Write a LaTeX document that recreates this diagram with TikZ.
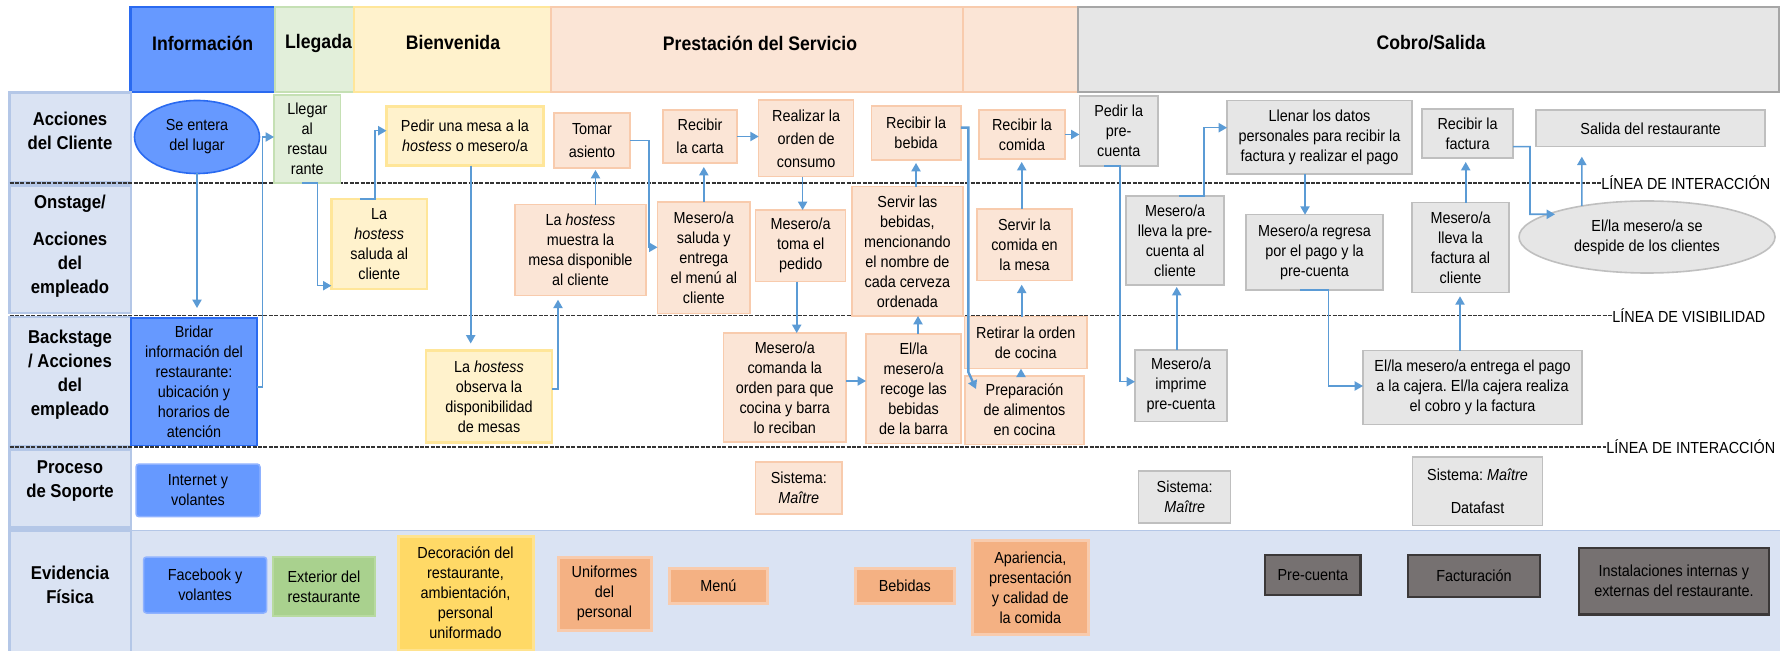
\documentclass[tikz,border=0pt]{standalone}
\usepackage{fontspec}
\setmainfont{Liberation Sans}[FakeStretch=0.9]
\usetikzlibrary{shapes.geometric,arrows.meta,calc}

\definecolor{blueF}{HTML}{6699FF}
\definecolor{blueD}{HTML}{2A6AF0}
\definecolor{blueS}{HTML}{8FB2FF}
\definecolor{grnLF}{HTML}{E2EFDA}
\definecolor{grnLD}{HTML}{C5E0B4}
\definecolor{grnF}{HTML}{A9D18E}
\definecolor{grnD}{HTML}{B8DAA0}
\definecolor{yelLF}{HTML}{FFF2CC}
\definecolor{yelLD}{HTML}{FFE699}
\definecolor{goldF}{HTML}{FFD966}
\definecolor{goldD}{HTML}{FFE38F}
\definecolor{pchF}{HTML}{FBE5D6}
\definecolor{pchD}{HTML}{F8CBAD}
\definecolor{orgF}{HTML}{F4B183}
\definecolor{orgD}{HTML}{F8CBAD}
\definecolor{gryF}{HTML}{E6E6E6}
\definecolor{gryD}{HTML}{BFBFBF}
\definecolor{gryH}{HTML}{A6A6A6}
\definecolor{dgryF}{HTML}{767171}
\definecolor{dgryD}{HTML}{3B3838}
\definecolor{lblF}{HTML}{DAE3F3}
\definecolor{lblD}{HTML}{B4C7E7}
\definecolor{arrowC}{HTML}{5B9BD5}
\definecolor{dashC}{HTML}{333333}

% box from its two corners (top-left, bottom-right), 1 unit = 0.5pt
\newcommand\boxat[7]{\node[#6, minimum width={(#4-#2)*0.5pt}, minimum height={(#5-#3)*0.5pt}] (#1) at ({(#2+#4)/2},{(#3+#5)/2}) {#7};}

\tikzset{
  plain/.style={draw, line width=0.75pt, align=center, inner sep=0pt, outer sep=0pt, font=\fontsize{8}{10}\selectfont},
  tall/.style={font=\fontsize{8}{11.5}\selectfont},
  blu/.style={plain, fill=blueF, draw=blueD},
  blus/.style={plain, fill=blueF, draw=blueS, rounded corners=1.5pt},
  grnl/.style={plain, fill=grnLF, draw=grnLD},
  grn/.style={plain, fill=grnF, draw=grnD},
  yel/.style={plain, fill=yelLF, draw=yelLD, line width=1.3pt},
  gld/.style={plain, fill=goldF, draw=goldD, line width=1.5pt},
  pch/.style={plain, fill=pchF, draw=pchD},
  org/.style={plain, fill=orgF, draw=orgD, line width=1.5pt},
  gry/.style={plain, fill=gryF, draw=gryD},
  dgry/.style={plain, fill=dgryF, draw=dgryD, line width=1.2pt},
  lblbox/.style={plain, fill=lblF, draw=lblD, line width=1.2pt},
  lbltxt/.style={align=center, inner sep=0pt, font=\bfseries\fontsize{9.3}{12}\selectfont},
  hdrtxt/.style={inner sep=0pt, font=\bfseries\fontsize{9.8}{12}\selectfont},
  linetxt/.style={anchor=west, inner sep=0pt, font=\fontsize{8}{10}\selectfont},
  dashln/.style={draw=dashC, line width=0.85pt, dash pattern=on 2pt off 0.7pt},
  arr/.style={draw=arrowC, line width=0.8pt, -{Triangle[length=4.2pt,width=4.6pt]}},
  arrthick/.style={arr, line width=1.2pt}
}

\begin{document}
\frenchspacing
\begin{tikzpicture}[x=0.5pt,y=-0.5pt]
\useasboundingbox (0,0) rectangle (1780,651);
\fill[white] (0,0) rectangle (1780,651);

% physical evidence band
\fill[lblF] (131,530.5) rectangle (1780,651);
\draw[lblD, line width=0.6pt] (131,530.5) -- (1780,530.5);

% phase headers
\boxat{hInfo}{130.5}{7}{274.8}{92}{plain, fill=blueF, draw=blueD, line width=1.2pt}{}
\boxat{hLleg}{275}{7}{354}{92}{plain, fill=grnLF, draw=grnLD, line width=0.6pt}{}
\boxat{hBien}{354}{7}{551}{92}{plain, fill=yelLF, draw=yelLD, line width=0.8pt}{}
\boxat{hPres}{551}{7}{963}{92}{plain, fill=pchF, draw=pchD, line width=0.8pt}{}
\boxat{hPresB}{963}{7}{1078}{92}{plain, fill=pchF, draw=pchD, line width=0.8pt}{}
\boxat{hCobro}{1078}{7}{1779}{92}{plain, fill=gryF, draw=gryH, line width=1pt}{}
\node[hdrtxt] (tInfo) at (202.6,43) {Información};
\node[hdrtxt] (tLleg) at (318.5,43) {Llegada};
\node[hdrtxt] (tBien) at (453,43) {Bienvenida};
\node[hdrtxt] (tPres) at (760,43) {Prestación del Servicio};
\node[hdrtxt] (tCobro) at (1431,43) {Cobro/Salida};

% lane labels
\boxat{lA}{9.6}{92.7}{131}{182.7}{lblbox}{}
\boxat{lB}{9.6}{185.7}{131}{313}{lblbox}{}
\boxat{lC}{9.6}{317}{131}{446.3}{lblbox}{}
\boxat{lD}{9.6}{449.5}{131}{527.5}{lblbox}{}
\boxat{lE}{9.6}{530.5}{131}{652}{lblbox}{}
\node[lbltxt] (lAt) at (70,131) {Acciones\\del Cliente};
\node[lbltxt] (lBt) at (70,246) {Onstage/\\[6.3pt]Acciones\\del\\empleado};
\node[lbltxt] (lCt) at (70,375) {Backstage\\/ Acciones\\del\\empleado};
\node[lbltxt] (lDt) at (70,481) {Proceso\\de Soporte};
\node[lbltxt] (lEt) at (70,585) {Evidencia\\Física};

% separation lines
\node[linetxt] (li1) at (1601,183) {LÍNEA DE INTERACCIÓN};
\node[linetxt] (li2) at (1612,315.5) {LÍNEA DE VISIBILIDAD};
\node[linetxt] (li3) at (1606,447) {LÍNEA DE INTERACCIÓN};
\draw[dashln] (9.6,183) -- (li1.west);
\draw[dashln] (9.6,315.5) -- (li2.west);
\draw[dashln] (9.6,447) -- (li3.west);

% customer actions
\node[ellipse, draw=blueD, fill=blueF, line width=0.8pt, inner sep=0pt, outer sep=0pt, align=center,
      font=\fontsize{8}{10}\selectfont, minimum width=62.5pt, minimum height=36.5pt] (se) at (197,137) {Se entera\\del lugar};
\boxat{llegar}{274}{95}{340.6}{183}{grnl}{Llegar\\al\\restau\\rante}
\boxat{pmesa}{386.5}{106.7}{543.4}{165.7}{yel}{Pedir una mesa a la\\\textit{hostess} o mesero/a}
\boxat{tomar}{554}{113}{630}{168}{pch,tall}{Tomar\\asiento}
\boxat{rcarta}{663}{110}{737}{163}{pch,tall}{Recibir\\la carta}
\boxat{rorden}{758.7}{100}{853.6}{176.7}{pch,tall}{Realizar la\\orden de\\consumo}
\boxat{rbebida}{871.4}{106}{960.8}{160}{pch}{Recibir la\\bebida}
\boxat{rcomida}{979}{110}{1065}{159}{pch}{Recibir la\\comida}
\boxat{ppre}{1079.4}{96}{1158}{166}{gry}{Pedir la\\pre-\\cuenta}
\boxat{llenar}{1227}{100.7}{1412}{174}{gry}{Llenar los datos\\personales para recibir la\\factura y realizar el pago}
\boxat{rfact}{1422}{109}{1513}{158}{gry}{Recibir la\\factura}
\boxat{salida}{1536}{110}{1765}{146.7}{gry}{Salida del restaurante}

% onstage
\boxat{hsaluda}{331.4}{199}{427}{289}{yel}{La\\\textit{hostess}\\saluda al\\cliente}
\boxat{hmuestra}{515}{204.7}{646}{295.7}{pch}{La \textit{hostess}\\muestra la\\mesa disponible\\al cliente}
\boxat{msaluda}{657.5}{202}{750}{313.3}{pch}{Mesero/a\\saluda y\\entrega\\el menú al\\cliente}
\boxat{mtoma}{755.6}{210}{845.7}{281.7}{pch}{Mesero/a\\toma el\\pedido}
\boxat{sbebidas}{852}{186.7}{962.8}{316}{pch}{Servir las\\bebidas,\\mencionando\\el nombre de\\cada cerveza\\ordenada}
\boxat{scomida}{977}{209}{1072}{280.7}{pch}{Servir la\\comida en\\la mesa}
\boxat{llevapre}{1126}{196}{1224}{285}{gry}{Mesero/a\\lleva la pre-\\cuenta al\\cliente}
\boxat{regresa}{1246}{214.7}{1383}{290}{gry}{Mesero/a regresa\\por el pago y la\\pre-cuenta}
\boxat{llevafact}{1412}{202.7}{1509}{292.3}{gry}{Mesero/a\\lleva la\\factura al\\cliente}
\node[ellipse, draw=gryD, fill=gryF, line width=0.8pt, inner sep=0pt, outer sep=0pt, align=center,
      font=\fontsize{8}{10}\selectfont, minimum width=128pt, minimum height=36pt] (despide) at (1647,237) {El/la mesero/a se\\despide de los clientes};

% backstage
\boxat{bridar}{131}{318}{257}{445.7}{blu}{Bridar\\información del\\restaurante:\\ubicación y\\horarios de\\atención}
\boxat{hobserva}{426}{350.5}{552}{442.3}{yel}{La \textit{hostess}\\observa la\\disponibilidad\\de mesas}
\boxat{comanda}{723.5}{333}{846}{442}{pch}{Mesero/a\\comanda la\\orden para que\\cocina y barra\\lo reciban}
\boxat{recoge}{866}{334}{961}{443.7}{pch}{El/la\\mesero/a\\recoge las\\bebidas\\de la barra}
\boxat{retirar}{964.5}{316.7}{1087}{368.7}{pch}{Retirar la orden\\de cocina}
\boxat{prep}{965}{376}{1084}{444.3}{pch}{Preparación\\de alimentos\\en cocina}
\boxat{imprime}{1135}{350}{1227}{421.7}{gry}{Mesero/a\\imprime\\pre-cuenta}
\boxat{entrega}{1363}{350.7}{1582}{424.3}{gry}{El/la mesero/a entrega el pago\\a la cajera. El/la cajera realiza\\el cobro y la factura}

% support processes
\boxat{internet}{136}{464}{260}{516.7}{blus}{Internet y\\volantes}
\boxat{sisA}{755.6}{462}{842}{514}{pch}{Sistema:\\\textit{Maître}}
\boxat{sisB}{1138.7}{471}{1230.7}{523}{gry}{Sistema:\\\textit{Maître}}
\boxat{sisC}{1412.7}{457}{1542.4}{525.7}{gry}{Sistema: \textit{Maître}\\[6.5pt]Datafast}

% physical evidence
\boxat{facebook}{143.5}{557}{266.7}{613}{blus}{Facebook y\\volantes}
\boxat{exterior}{273}{557}{375}{616}{grn}{Exterior del\\restaurante}
\boxat{decor}{398}{536}{533}{650}{gld}{Decoración del\\restaurante,\\ambientación,\\personal\\uniformado}
\boxat{unif}{558}{557}{651}{630}{org}{Uniformes\\del\\personal}
\boxat{menu}{669}{568}{767.8}{603}{org}{Menú}
\boxat{bebidas}{855.6}{568}{954}{603}{org}{Bebidas}
\boxat{apar}{972.6}{540.7}{1088}{634}{org}{Apariencia,\\presentación\\y calidad de\\la comida}
\boxat{precta}{1265}{555}{1360.6}{595}{dgry}{Pre-cuenta}
\boxat{factu}{1408}{555}{1540}{596.7}{dgry}{Facturación}
\boxat{inst}{1578.8}{547.7}{1769}{614.3}{dgry}{Instalaciones internas y\\externas del restaurante.}

% flow connectors
\draw[arr, shorten >=5pt] (se.south) -- (se.south |- bridar.north);
\draw[arr] (bridar.east |- 0,387) -| (262.5,137) -- (llegar.west |- 0,137);
\draw[arr] ($(llegar.south)+(-5,0)$) -| (317.6,285.7) -- (hsaluda.west |- 0,285.7);
\draw[arr] (hsaluda.north -| 360,0) -| (375,130.7) -- (pmesa.west |- 0,130.7);
\draw[arr, shorten >=3.5pt] (pmesa.south -| 470.7,0) -- (hobserva.north -| 470.7,0);
\draw[arr, shorten >=2pt] (hobserva.east |- 0,389.3) -| (hmuestra.south -| 558,0);
\draw[arr, shorten >=1pt] (hmuestra.north -| 595.5,0) -- (tomar.south -| 595.5,0);
\draw[arr] (tomar.east) -| (649,247.3) -- (msaluda.west |- 0,247.3);
\draw[arr, shorten >=2pt] (msaluda.north -| 703.8,0) -- (rcarta.south -| 703.8,0);
\draw[arr] (rcarta.east) -- (rorden.west |- rcarta.east);
\draw[arr] (rorden.south -| 802.6,0) -- (mtoma.north -| 802.6,0);
\draw[arr] (mtoma.south -| 796.7,0) -- (comanda.north -| 796.7,0);
\draw[arr] (comanda.east |- 0,381) -- (recoge.west |- 0,381);
\draw[arr] (recoge.north -| 918,0) -- (sbebidas.south -| 918,0);
\draw[arr, shorten >=1.5pt] (sbebidas.north -| 916,0) -- (rbebida.south -| 916,0);
\draw[arrthick] (rbebida.east |- 0,127.7) -| (968.3,372) -- ($(prep.north west)+(11,13)$);
\draw[arr] (prep.north -| 1021,0) -- (retirar.south -| 1021,0);
\draw[arr, shorten >=2pt] (retirar.north -| 1021.7,0) -- (scomida.south -| 1021.7,0);
\draw[arr, shorten >=1.5pt] (scomida.north -| 1021.7,0) -- (rcomida.south -| 1021.7,0);
\draw[arr] (rcomida.east) -- (ppre.west |- rcomida.east);
\draw[arr] (ppre.south -| 1104,0) -| (1120,381.7) -- (imprime.west |- 0,381.7);
\draw[arr, shorten >=1pt] (imprime.north -| 1176.7,0) -- (llevapre.south -| 1176.7,0);
\draw[arr] (llevapre.north -| 1179,0) -| (1204,127.7) -- (llenar.west |- 0,127.7);
\draw[arr] (llenar.south -| 1305,0) -- (regresa.north -| 1305,0);
\draw[arr] (regresa.south -| 1300,0) -| (1328.3,386) -- (entrega.west |- 0,386);
\draw[arr, shorten >=2pt] (entrega.north -| 1460,0) -- (llevafact.south -| 1460,0);
\draw[arr, shorten >=2pt] (llevafact.north -| 1465.7,0) -- (rfact.south -| 1465.7,0);
\draw[arr] (rfact.east |- 0,146.7) -| (1530,214.3) -- ($(despide.center)+(-92,-22.7)$);
\draw[arr, shorten >=5pt] ($(despide.center)+(-65.2,-31)$) -- (salida.south -| 1581.8,0);
\end{tikzpicture}
\end{document}
